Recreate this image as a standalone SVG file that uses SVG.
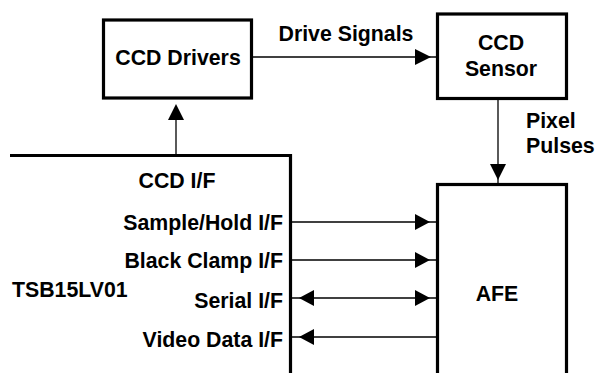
<svg xmlns="http://www.w3.org/2000/svg" width="595" height="373" viewBox="0 0 595 373">
<style>
.box{fill:#fff;stroke:#000;stroke-width:3.2}
.ln{fill:none;stroke:#000;stroke-width:1.3}
.ah{fill:#000;stroke:none}
text{font-family:"Liberation Sans",Arial,sans-serif;font-weight:bold;font-size:21.3px;fill:#000}
.c{text-anchor:middle}
.r{text-anchor:end}
</style>
<rect width="595" height="373" fill="#fff"/>
<g id="connectors">
<line class="ln" x1="176" y1="155" x2="176" y2="110"/>
<polygon class="ah" points="176,104 168,120 184,120"/>
<line class="ln" x1="252" y1="57" x2="437" y2="57"/>
<polygon class="ah" points="431,57 415,49 415,65"/>
<line class="ln" x1="498" y1="99" x2="498" y2="184"/>
<polygon class="ah" points="498,180 490,164 506,164"/>
<line class="ln" x1="292" y1="222" x2="437" y2="222"/>
<polygon class="ah" points="430,222 415,214 415,230"/>
<line class="ln" x1="292" y1="260" x2="437" y2="260"/>
<polygon class="ah" points="430,260 415,252 415,268"/>
<line class="ln" x1="292" y1="298" x2="437" y2="298"/>
<polygon class="ah" points="430,298 415,290 415,306"/>
<polygon class="ah" points="299,298 314,290 314,306"/>
<line class="ln" x1="292" y1="337" x2="437" y2="337"/>
<polygon class="ah" points="299,337 314,329 314,345"/>
</g>
<g id="ccd-drivers">
<rect class="box" x="103.5" y="20" width="148" height="78"/>
<text class="c" x="178" y="65">CCD Drivers</text>
</g>
<g id="drive-signals-label">
<text class="c" x="346" y="41">Drive Signals</text>
</g>
<g id="ccd-sensor">
<rect class="box" x="437.5" y="14" width="129" height="84.5"/>
<text class="c" x="501" y="50">CCD</text>
<text class="c" x="501" y="76">Sensor</text>
</g>
<g id="pixel-pulses-label">
<text x="526" y="128">Pixel</text>
<text x="526" y="153">Pulses</text>
</g>
<g id="afe">
<rect class="box" x="437.5" y="184.5" width="129" height="210"/>
<text class="c" x="497" y="301">AFE</text>
</g>
<g id="tsb15lv01">
<path fill="none" stroke="#000" stroke-width="3.2" d="M10,155.5 H290.5 V380"/>
<text class="c" x="177" y="188">CCD I/F</text>
<text class="r" x="283" y="230">Sample/Hold I/F</text>
<text class="r" x="283" y="268">Black Clamp I/F</text>
<text class="r" x="283" y="308">Serial I/F</text>
<text class="r" x="283" y="347">Video Data I/F</text>
<text x="12" y="297">TSB15LV01</text>
</g>
</svg>
